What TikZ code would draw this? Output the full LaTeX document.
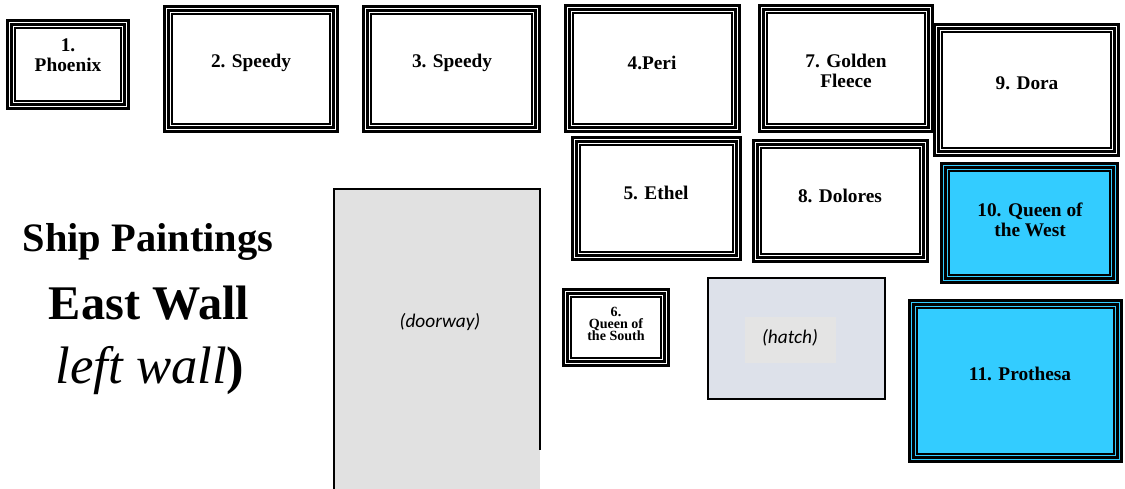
\documentclass[tikz,border=0pt]{standalone}
\usepackage{fontspec}
\setmainfont{Liberation Serif}
\newfontfamily\notefont{Carlito}
\usetikzlibrary{positioning}
\newlength\pix
\setlength\pix{0.02cm}
\definecolor{paintblue}{HTML}{33CCFF}
\definecolor{hatchgray}{HTML}{DDE1EA}
\definecolor{notegray}{HTML}{E4E4E4}
\definecolor{doorgray}{HTML}{E1E1E1}
\tikzset{
	frame/.style={draw, line width=1.3pt, double=white, double distance=0.9pt, fill=white, inner sep=0pt,
		path picture={\draw[line width=0.8pt] ([shift={(3.2pt,3.2pt)}]path picture bounding box.south west)
			rectangle ([shift={(-3.2pt,-3.2pt)}]path picture bounding box.north east);}},
	blueframe/.style={frame, fill=paintblue, double=paintblue},
	lbl/.style={text centered, align=center, inner sep=0pt, font=\fontsize{11}{11.5}\selectfont\bfseries},
	smalllbl/.style={lbl, font=\fontsize{8}{7}\selectfont\bfseries},
	note/.style={text centered, inner sep=0pt, font=\notefont\fontsize{11}{12}\selectfont\itshape},
}

\begin{document}
\begin{tikzpicture}[x=\pix, y=-\pix]
		\useasboundingbox (0,0) rectangle (1125,488);
		
		\node (Doorway) at (437,339.5) [rectangle, fill=doorgray, minimum width=206*\pix, minimum height=301*\pix]{};
		\draw[line width=1.2pt] (Doorway.south west) -- (Doorway.north west) -- (Doorway.north east) -- ([yshift=40*\pix]Doorway.south east);
		\node (Doorway Text) at (440,322) [note]{(doorway)};
		
		\node (Hatch) at (796.5,338.5) [draw, rectangle, line width=1.3pt, fill=hatchgray, minimum width=177*\pix, minimum height=121*\pix]{};
		\node (Hatch Note) at (790.5,340) [rectangle, fill=notegray, minimum width=91*\pix, minimum height=46*\pix]{};
		\node (Hatch Text) at (790,338) [note]{(hatch)};
		
		\node (Phoenix) at (68,64.5) [frame, minimum width=117*\pix, minimum height=84*\pix]{};
		\node (Phoenix Text) at (68,55) [lbl]{1.\\Phoenix};
		\node (Speedy A) at (251,69) [frame, minimum width=169*\pix, minimum height=121*\pix]{};
		\node (Speedy A Text) at (251,63) [lbl]{2. Speedy};
		\node (Speedy B) at (451.5,69) [frame, minimum width=172*\pix, minimum height=121*\pix]{};
		\node (Speedy B Text) at (452,63) [lbl]{3. Speedy};
		\node (Peri) at (652.5,68.5) [frame, minimum width=170*\pix, minimum height=122*\pix]{};
		\node (Peri Text) at (652,63) [lbl]{4.Peri};
		\node (Golden Fleece) at (846,68.5) [frame, minimum width=169*\pix, minimum height=122*\pix]{};
		\node (Golden Fleece Text) at (846,71) [lbl]{7. Golden\\Fleece};
		\node (Dora) at (1026.5,90) [frame, minimum width=180*\pix, minimum height=127*\pix]{};
		\node (Dora Text) at (1027,83) [lbl]{9. Dora};
		
		\node (Ethel) at (656.5,198.5) [frame, minimum width=164*\pix, minimum height=118*\pix]{};
		\node (Ethel Text) at (656,193) [lbl]{5. Ethel};
		\node (Dolores) at (840.5,201) [frame, minimum width=170*\pix, minimum height=117*\pix]{};
		\node (Dolores Text) at (840,196) [lbl]{8. Dolores};
		\node (Queen West) at (1029.5,223) [blueframe, minimum width=172*\pix, minimum height=115*\pix]{};
		\node (Queen West Text) at (1030,220) [lbl]{10. Queen of\\the West};
		
		\node (Queen South) at (616,327.5) [frame, minimum width=101*\pix, minimum height=72*\pix]{};
		\node (Queen South Text) at (616,324) [smalllbl]{6.\\Queen of\\the South};
		\node (Prothesa) at (1015.5,381) [blueframe, minimum width=208*\pix, minimum height=157*\pix]{};
		\node (Prothesa Text) at (1020,374) [lbl]{11. Prothesa};
		
		\node (Title1) at (148,242) [text centered, font=\fontsize{23}{26}\selectfont\bfseries]{Ship Paintings};
		\node (Title2) at (149,303) [text centered, font=\fontsize{27.5}{30}\selectfont\bfseries]{East Wall};
		\node (Title3) at (150,371) [text centered, font=\fontsize{30}{32}\selectfont]{\textit{left wall}\textbf{)}};
		\end{tikzpicture}
\end{document}
